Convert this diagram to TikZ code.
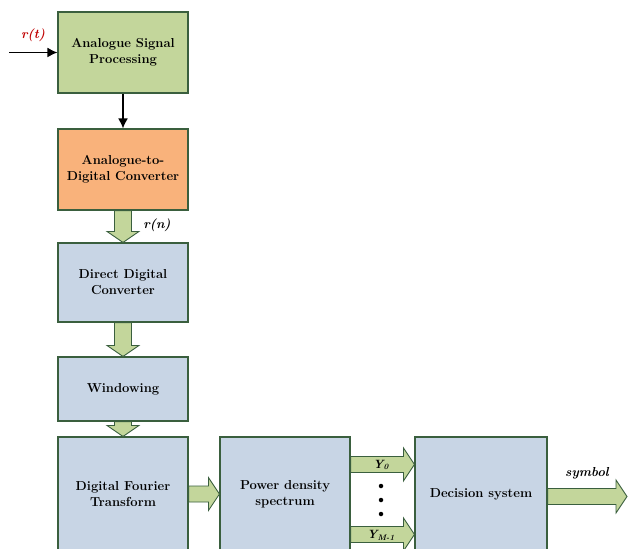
\documentclass[tikz,border=0pt]{standalone}
\usetikzlibrary{calc,arrows.meta}
\definecolor{boxgreen}{HTML}{C3D69B}
\definecolor{boxorange}{HTML}{F9B27B}
\definecolor{boxblue}{HTML}{C8D5E5}
\definecolor{edgegreen}{HTML}{3A5F3E}
\definecolor{labelred}{HTML}{C00000}
\tikzset{
  block/.style={draw=edgegreen, line width=1.1pt, align=center, minimum width=130pt,
    font=\fontsize{13}{16}\selectfont\bfseries},
  fatarr/.style={draw=edgegreen, line width=.9pt, fill=boxgreen},
  thinarr/.style={line width=1.6pt, -{Latex[length=10pt,width=10pt]}},
  lbl/.style={font=\fontsize{13}{15}\selectfont\bfseries\itshape, inner sep=0pt},
  dot/.style={circle, fill=black, inner sep=0pt, minimum size=4.5pt}
}
% fat arrow down from #1 to #2 (same x)
\newcommand{\fatdown}[2]{%
  \draw[fatarr] ($(#1)+(-8.5,0)$) -- ($(#1)+(8.5,0)$) -- ($(#2)+(8.5,-11)$)
    -- ($(#2)+(16,-11)$) -- (#2) -- ($(#2)+(-16,-11)$) -- ($(#2)+(-8.5,-11)$) -- cycle;}
% fat arrow right from #1 to #2 (same y)
\newcommand{\fatright}[2]{%
  \draw[fatarr] ($(#1)+(0,-8)$) -- ($(#2)+(-11,-8)$) -- ($(#2)+(-11,-16.5)$)
    -- (#2) -- ($(#2)+(-11,16.5)$) -- ($(#2)+(-11,8)$) -- ($(#1)+(0,8)$) -- cycle;}
\begin{document}
\begin{tikzpicture}[x=1pt,y=-1pt]
  \useasboundingbox (0,0) rectangle (628,548);
  % blocks
  \node[block, fill=boxgreen,  minimum height=81pt] (asp) at (123,52.5) {Analogue Signal\\Processing};
  \node[block, fill=boxorange, minimum height=81pt] (adc) at (123,169.5) {Analogue-to-\\Digital Converter};
  \node[block, fill=boxblue,   minimum height=79pt] (ddc) at (123,282.5) {Direct Digital\\Converter};
  \node[block, fill=boxblue,   minimum height=64pt] (win) at (123,389) {Windowing};
  \node[block, fill=boxblue,   minimum height=114pt] (dft) at (123,494) {Digital Fourier\\Transform};
  \node[block, fill=boxblue,   minimum height=114pt] (pds) at (285,494) {Power density\\spectrum};
  \node[block, fill=boxblue,   minimum height=114pt, minimum width=132pt] (dec) at (481,494) {Decision system};

  % input
  \coordinate (in) at (9,52.5);
  \draw[thinarr] (in) -- (asp.west);
  \node[lbl, text=labelred] (rt) at (33,35) {r(t)};
  \draw[thinarr] (asp) -- (adc);

  % fat arrows
  \fatdown{adc.south}{ddc.north}
  \node[lbl] (rn) at (157,225) {r(n)};
  \fatdown{ddc.south}{win.north}
  \fatdown{win.south}{dft.north}
  \fatright{dft.east}{pds.west}

  \coordinate (y0s) at ($(pds.north east)+(0,28)$);
  \coordinate (y0t) at (y0s -| dec.west);
  \coordinate (yms) at ($(pds.north east)+(0,98)$);
  \coordinate (ymt) at (yms -| dec.west);
  \fatright{y0s}{y0t}
  \fatright{yms}{ymt}
  \node[lbl, font=\fontsize{12}{14}\selectfont\bfseries\itshape] (y0) at (381,465) {Y\textsubscript{0}};
  \node[lbl, font=\fontsize{12}{14}\selectfont\bfseries\itshape] (ym) at (381,535) {Y\textsubscript{M-1}};
  \node[dot] (d1) at (381,486) {};
  \node[dot] (d2) at (381,500) {};
  \node[dot] (d3) at (381,514) {};

  % output
  \coordinate (symst) at ($(dec.east)+(0,2.5)$);
  \coordinate (out) at (627,496.5);
  \fatright{symst}{out}
  \node[lbl] (sym) at (587,473) {symbol};
\end{tikzpicture}
\end{document}
